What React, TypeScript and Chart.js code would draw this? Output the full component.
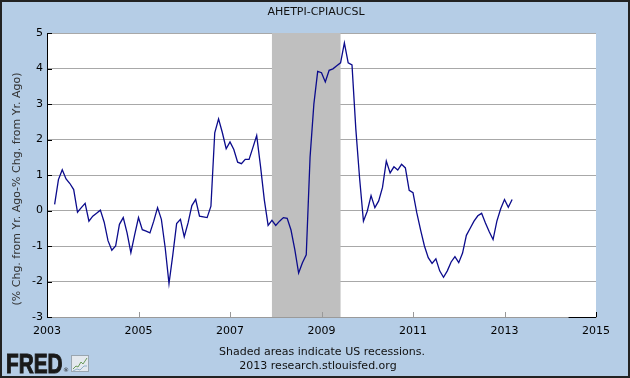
import React, { useEffect, useRef } from "react";
import { Chart, registerables } from "chart.js";

Chart.register(...registerables);

// ---- Data (monthly, starting March 2003) ----
const seriesName = "AHETPI-CPIAUCSL";
const startYear = 2003;
const startMonth = 3; // March
const spread = [
  0.17, 0.87, 1.15, 0.89, 0.76, 0.59, -0.05, 0.08, 0.2, -0.3,
  -0.16, -0.08, 0.01, -0.33, -0.85, -1.12, -1.0, -0.39, -0.2, -0.63, -1.19, -0.68,
  -0.2, -0.54, -0.58, -0.63, -0.3, 0.08, -0.25, -1.05, -2.06, -1.25, -0.37, -0.25,
  -0.74, -0.35, 0.14, 0.31, -0.16, -0.18, -0.2, 0.12, 2.19, 2.58, 2.19, 1.74,
  1.93, 1.72, 1.36, 1.32, 1.44, 1.44, 1.77, 2.11, 1.25, 0.3, -0.42, -0.28,
  -0.42, -0.3, -0.2, -0.22, -0.55, -1.1, -1.76, -1.47, -1.25, 1.5, 3.0, 3.92,
  3.88, 3.62, 3.95, 3.99, 4.08, 4.16, 4.72, 4.16, 4.1, 2.3, 0.9, -0.3,
  -0.02, 0.42, 0.08, 0.27, 0.65, 1.39, 1.06, 1.23, 1.14, 1.3, 1.2, 0.57,
  0.5, -0.07, -0.55, -1.0, -1.33, -1.49, -1.36, -1.7, -1.88, -1.7, -1.45, -1.3,
  -1.47, -1.2, -0.7, -0.5, -0.3, -0.15, -0.08, -0.35, -0.6, -0.82, -0.3, 0.05,
  0.31, 0.09, 0.31,
];
const recessionStart = 2007 + 11 / 12; // Dec 2007
const recessionEnd = 2009 + 5 / 12; // Jun 2009
const xMin = 2003;
const xMax = 2015;
const xStep = 2;
const yMin = -3;
const yMax = 5;
const yStep = 1;
const yTitle = "(% Chg. from Yr. Ago-% Chg. from Yr. Ago)";
const footLine1 = "Shaded areas indicate US recessions.";
const footLine2 = "2013 research.stlouisfed.org";

const FONT = "'DejaVu Sans', Verdana, sans-serif";

const decor = {
  id: "fredDecor",
  beforeDraw(chart: any) {
    const { ctx, width, height, chartArea } = chart;
    ctx.save();
    ctx.fillStyle = "#b5cde6";
    ctx.fillRect(0, 0, width, height);
    ctx.fillStyle = "#ffffff";
    ctx.fillRect(chartArea.left, chartArea.top, chartArea.right - chartArea.left, chartArea.bottom - chartArea.top);
    ctx.restore();
  },
  beforeDatasetsDraw(chart: any) {
    const { ctx, chartArea, scales } = chart;
    const x0 = scales.x.getPixelForValue(recessionStart);
    const x1 = scales.x.getPixelForValue(recessionEnd);
    ctx.save();
    ctx.fillStyle = "#bfbfbf";
    ctx.fillRect(x0, chartArea.top, x1 - x0, chartArea.bottom - chartArea.top);
    ctx.restore();
  },
  afterDraw(chart: any) {
    const { ctx, width, height, chartArea, scales } = chart;
    const { left, bottom, right } = chartArea;
    ctx.save();
    // x tick marks (inward)
    ctx.lineWidth = 1;
    scales.x.ticks.forEach((t: any) => {
      if (t.value === xMin) return;
      const px = Math.round(scales.x.getPixelForValue(t.value)) + 0.5;
      ctx.strokeStyle = t.value === xMax ? "#000" : "#999";
      ctx.beginPath();
      ctx.moveTo(px, bottom);
      ctx.lineTo(px, bottom - 5);
      ctx.stroke();
    });
    // odd black bottom segment near the right edge
    ctx.strokeStyle = "#000";
    ctx.beginPath();
    ctx.moveTo(scales.x.getPixelForValue(2014.4), Math.round(bottom) + 0.5);
    ctx.lineTo(right, Math.round(bottom) + 0.5);
    ctx.stroke();
    // y tick marks (inward, black)
    scales.y.ticks.forEach((t: any) => {
      const py = Math.round(scales.y.getPixelForValue(t.value)) + 0.5;
      ctx.beginPath();
      ctx.moveTo(left, py);
      ctx.lineTo(left + 5, py);
      ctx.stroke();
    });
    // title
    ctx.fillStyle = "#111";
    ctx.font = `11px ${FONT}`;
    ctx.textAlign = "center";
    ctx.textBaseline = "middle";
    ctx.fillText(seriesName, 316, 12);
    // y title
    ctx.save();
    ctx.translate(17, 189);
    ctx.rotate(-Math.PI / 2);
    ctx.fillStyle = "#333";
    ctx.fillText(yTitle, 0, 0);
    ctx.restore();
    // footer
    ctx.fillStyle = "#111";
    ctx.fillText(footLine1, 322, 352);
    ctx.fillText(footLine2, 318, 366);
    // FRED logo
    ctx.save();
    ctx.translate(6, 373);
    ctx.scale(0.8, 1.05);
    ctx.font = `bold 26px 'Liberation Sans', Arial, sans-serif`;
    ctx.textAlign = "left";
    ctx.textBaseline = "alphabetic";
    ctx.fillStyle = "#1a1a1a";
    ctx.lineWidth = 1;
    ctx.strokeStyle = "#1a1a1a";
    ctx.fillText("FRED", 0, 0);
    ctx.strokeText("FRED", 0, 0);
    ctx.restore();
    ctx.font = `6px ${FONT}`;
    ctx.textAlign = "left";
    ctx.fillStyle = "#1a1a1a";
    ctx.fillText("®", 63, 370);
    // little chart icon
    ctx.fillStyle = "#e4e9ee";
    ctx.fillRect(71, 355, 18, 17);
    ctx.strokeStyle = "#9aa6b0";
    ctx.strokeRect(71.5, 355.5, 17, 16);
    ctx.strokeStyle = "#6a9a5a";
    ctx.beginPath();
    ctx.moveTo(73, 369);
    ctx.lineTo(76, 366);
    ctx.lineTo(78, 367);
    ctx.lineTo(81, 362);
    ctx.lineTo(83, 364);
    ctx.lineTo(87, 358);
    ctx.stroke();
    ctx.strokeStyle = "#8fb0c8";
    ctx.beginPath();
    ctx.moveTo(73, 371);
    ctx.lineTo(77, 369);
    ctx.lineTo(80, 370);
    ctx.lineTo(84, 366);
    ctx.lineTo(87, 366);
    ctx.stroke();
    // outer border
    ctx.strokeStyle = "#222";
    ctx.lineWidth = 2;
    ctx.strokeRect(1, 1, width - 2, height - 2);
    ctx.restore();
  },
};

export default function App() {
  const ref = useRef<HTMLCanvasElement>(null);
  useEffect(() => {
    document.body.style.margin = "0";
    const points = spread.map((v, i) => ({ x: startYear + (startMonth - 1 + i) / 12, y: v }));
    const chart = new Chart(ref.current!, {
      type: "line",
      data: {
        datasets: [
          {
            data: points,
            borderColor: "#0b0b8c",
            borderWidth: 1.3,
            pointRadius: 0,
            tension: 0,
            fill: false,
          },
        ],
      },
      options: {
        responsive: false,
        animation: false,
        events: [],
        layout: { padding: { left: 0, right: 34, top: 33, bottom: 0 } },
        plugins: { legend: { display: false }, tooltip: { enabled: false }, title: { display: false } },
        scales: {
          x: {
            type: "linear",
            min: xMin,
            max: xMax,
            ticks: {
              stepSize: xStep,
              callback: (v: any) => String(v),
              color: "#000",
              font: { family: FONT, size: 11 },
              maxRotation: 0,
              padding: 8,
            },
            grid: { display: true, drawOnChartArea: false, drawTicks: false },
            border: { color: "#9a9a9a", width: 1 },
            afterFit: (s: any) => {
              s.height = 61;
            },
          },
          y: {
            min: yMin,
            max: yMax,
            ticks: {
              stepSize: yStep,
              color: "#000",
              font: { family: FONT, size: 11 },
              padding: 4,
            },
            grid: { color: "#a8a8a8", drawTicks: false },
            border: { color: "#000", width: 1 },
            afterFit: (s: any) => {
              s.width = 47;
            },
          },
        },
      },
      plugins: [decor],
    });
    return () => chart.destroy();
  }, []);
  return <canvas ref={ref} width={630} height={378} style={{ display: "block" }} />;
}
